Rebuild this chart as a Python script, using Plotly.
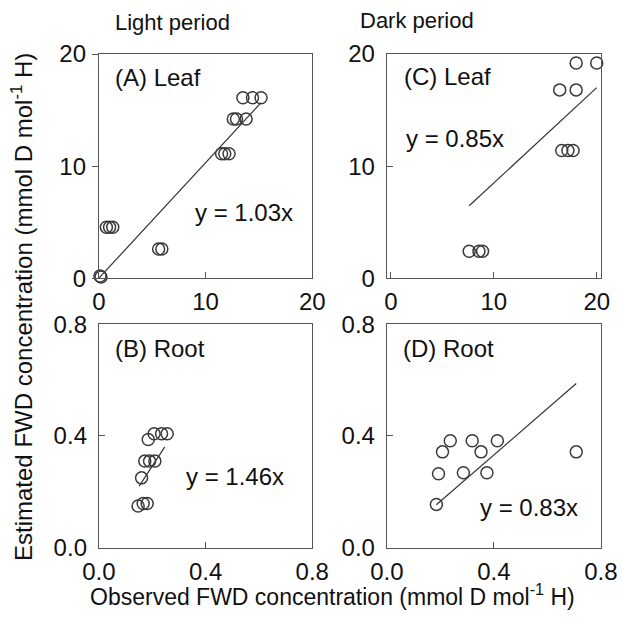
import plotly.graph_objects as go

# Panel A: Leaf, light period
a_obs = [0.1, 0.2, 0.7, 1.0, 1.3, 5.6, 5.9, 11.5, 11.8, 12.2, 12.6, 12.9, 13.8, 13.5, 14.4, 15.2]
a_est = [0.2, 0.1, 4.55, 4.55, 4.55, 2.6, 2.6, 11.1, 11.1, 11.1, 14.2, 14.2, 14.2, 16.1, 16.1, 16.1]
a_slope = 1.03
a_fit_x = [0.0, 15.2]

# Panel C: Leaf, dark period
c_obs = [7.6, 8.55, 8.9, 16.6, 17.2, 17.7, 16.4, 18.0, 18.0, 20.0]
c_est = [2.4, 2.4, 2.4, 11.4, 11.4, 11.4, 16.8, 16.8, 19.2, 19.2]
c_slope = 0.85
c_fit_x = [7.6, 20.0]

# Panel B: Root, light period
b_obs = [0.147, 0.166, 0.181, 0.16, 0.172, 0.19, 0.21, 0.185, 0.207, 0.235, 0.256]
b_est = [0.149, 0.158, 0.158, 0.25, 0.31, 0.31, 0.31, 0.387, 0.408, 0.408, 0.408]
b_slope = 1.46
b_fit_x = [0.151, 0.247]

# Panel D: Root, dark period
d_obs = [0.185, 0.193, 0.208, 0.237, 0.286, 0.319, 0.352, 0.374, 0.413, 0.708]
d_est = [0.155, 0.265, 0.343, 0.383, 0.268, 0.383, 0.343, 0.268, 0.383, 0.343]
d_slope = 0.83
d_fit_x = [0.185, 0.708]

leaf_ticks = [0, 10, 20]
root_ticks = [0.0, 0.4, 0.8]
root_ticktext = ["0.0", "0.4", "0.8"]

FONT = "Liberation Sans, Arial, sans-serif"
MK = dict(symbol="circle-open", size=12, color="#3a3a3a", line=dict(width=1.5, color="#3a3a3a"))
LN = dict(color="#333333", width=1.2)

fig = go.Figure()

panels = [
    ("x", "y", a_obs, a_est, a_slope, a_fit_x),
    ("x2", "y2", c_obs, c_est, c_slope, c_fit_x),
    ("x3", "y3", b_obs, b_est, b_slope, b_fit_x),
    ("x4", "y4", d_obs, d_est, d_slope, d_fit_x),
]
for xa, ya, xo, ye, s, fx in panels:
    fig.add_trace(go.Scatter(x=fx, y=[s * v for v in fx], mode="lines", line=LN,
                             xaxis=xa, yaxis=ya, showlegend=False, hoverinfo="skip"))
    fig.add_trace(go.Scatter(x=xo, y=ye, mode="markers", marker=MK, cliponaxis=False,
                             xaxis=xa, yaxis=ya, showlegend=False))

ax_common = dict(showgrid=False, zeroline=False, showline=True, mirror=True, automargin=False,
                 linecolor="#555555", linewidth=1.2, ticks="inside", ticklen=6,
                 tickcolor="#555555", tickfont=dict(family=FONT, size=24, color="#111111"))
xa_common = dict(ax_common, ticklabelstandoff=2)
ya_common = dict(ax_common, ticklabelstandoff=6)

colx = [(0.159, 0.502), (0.622, 0.966)]
rowy = [(0.552, 0.913), (0.118, 0.478)]

layout = dict(
    width=622, height=621, margin=dict(l=0, r=0, t=0, b=0, autoexpand=False),
    paper_bgcolor="white", plot_bgcolor="white",
    font=dict(family=FONT, color="#111111"),
)
layout["xaxis"] = dict(xa_common, domain=colx[0], anchor="y", range=[0, 20], tickvals=leaf_ticks)
layout["yaxis"] = dict(ya_common, domain=rowy[0], anchor="x", range=[0, 20], tickvals=leaf_ticks,
                       ticks="outside", ticklabelstandoff=1)
layout["xaxis2"] = dict(xa_common, domain=colx[1], anchor="y2", range=[-0.4, 20.4], tickvals=leaf_ticks)
layout["yaxis2"] = dict(ya_common, domain=rowy[0], anchor="x2", range=[0, 20], tickvals=leaf_ticks)
layout["xaxis3"] = dict(xa_common, domain=colx[0], anchor="y3", range=[0, 0.8], tickvals=root_ticks, ticktext=root_ticktext)
layout["yaxis3"] = dict(ya_common, domain=rowy[1], anchor="x3", range=[0, 0.8], tickvals=root_ticks, ticktext=root_ticktext)
layout["xaxis4"] = dict(xa_common, domain=colx[1], anchor="y4", range=[0, 0.8], tickvals=root_ticks, ticktext=root_ticktext)
layout["yaxis4"] = dict(ya_common, domain=rowy[1], anchor="x4", range=[0, 0.8], tickvals=root_ticks, ticktext=root_ticktext)
fig.update_layout(**layout)

TF = dict(family=FONT, size=24, color="#111111")
ann = [
    ("x", "y", 0.066, 0.897, "(A) Leaf"),
    ("x", "y", 0.44, 0.295, "y = 1.03x"),
    ("x2", "y2", 0.07, 0.90, "(C) Leaf"),
    ("x2", "y2", 0.079, 0.625, "y = 0.85x"),
    ("x3", "y3", 0.066, 0.893, "(B) Root"),
    ("x3", "y3", 0.40, 0.317, "y = 1.46x"),
    ("x4", "y4", 0.066, 0.893, "(D) Root"),
    ("x4", "y4", 0.425, 0.18, "y = 0.83x"),
]
for xa, ya, px, py, t in ann:
    fig.add_annotation(xref=xa + " domain", yref=ya + " domain", x=px, y=py, text=t,
                       showarrow=False, xanchor="left", yanchor="middle", font=TF)

fig.add_annotation(xref="paper", yref="paper", x=172 / 622, y=1 - 23 / 621, text="Light period",
                   showarrow=False, xanchor="center", yanchor="middle", font=dict(family=FONT, size=22, color="#111111"))
fig.add_annotation(xref="paper", yref="paper", x=417 / 622, y=1 - 20 / 621, text="Dark period",
                   showarrow=False, xanchor="center", yanchor="middle", font=dict(family=FONT, size=22, color="#111111"))
fig.add_annotation(xref="paper", yref="paper", x=22 / 622, y=1 - 307 / 621,
                   text="Estimated FWD concentration (mmol D mol<sup>-1</sup> H)", textangle=-90,
                   showarrow=False, xanchor="center", yanchor="middle", font=dict(family=FONT, size=24, color="#111111"))
fig.add_annotation(xref="paper", yref="paper", x=332 / 622, y=1 - 595 / 621,
                   text="Observed FWD concentration (mmol D mol<sup>-1</sup> H)",
                   showarrow=False, xanchor="center", yanchor="middle", font=dict(family=FONT, size=23, color="#111111"))

fig.write_html("out.html", config={"displayModeBar": False},
               post_script="document.body.style.margin='0';document.body.style.overflow='hidden';")
